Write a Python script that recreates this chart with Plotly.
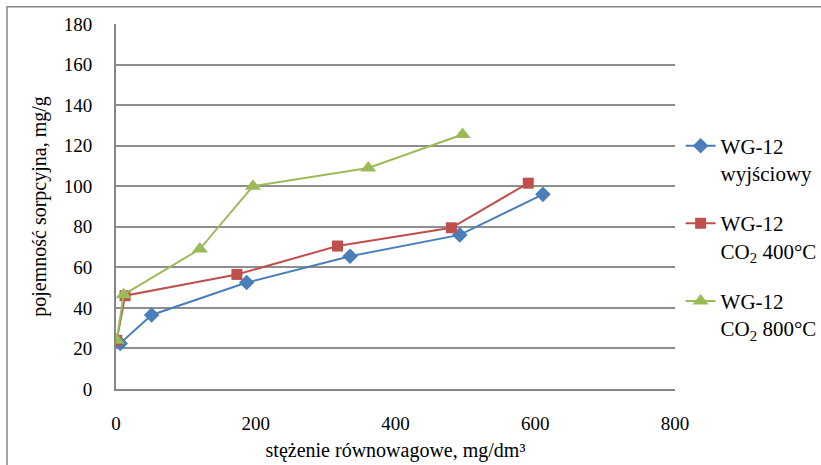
import plotly.graph_objects as go

x_wyj = [6, 51, 187, 335, 492, 611]
y_wyj = [22.5, 36.5, 52.5, 65.5, 76, 96]
x_400 = [1, 13, 173, 317, 480, 590]
y_400 = [24, 46, 56.5, 70.5, 79.5, 101.5]
x_800 = [1, 11, 120, 196, 361, 496]
y_800 = [24, 46.5, 69, 100, 109, 125.5]

names = ["WG-12<br>wyjściowy", "WG-12<br>CO<sub>2</sub> 400°C", "WG-12<br>CO<sub>2</sub> 800°C"]
colors = ["#4A7EBB", "#C0504D", "#9BBB59"]
symbols = ["diamond", "square", "triangle-up"]
sizes = [12, 11, 14]

font = "Liberation Serif, Times New Roman, serif"
fig = go.Figure()
for i, (xs, ys) in enumerate([(x_wyj, y_wyj), (x_400, y_400), (x_800, y_800)]):
    fig.add_trace(go.Scatter(
        x=xs, y=ys, mode="lines+markers", name=names[i], legendgroup=str(i),
        line=dict(color=colors[i], width=2),
        marker=dict(symbol=symbols[i], size=sizes[i], color=colors[i],
                    line=dict(width=0)),
    ))

fig.update_layout(
    width=821, height=465,
    margin=dict(l=116, r=146, t=24, b=76, autoexpand=False),
    paper_bgcolor="white", plot_bgcolor="white",
    font=dict(family=font, size=19, color="black"),
    showlegend=True,
    legend=dict(xref="container", yref="container", x=0.829, y=0.730,
                xanchor="left", yanchor="top",
                tracegroupgap=20, valign="top", traceorder="grouped",
                font=dict(family=font, size=21), itemwidth=30),
    xaxis=dict(range=[0, 800], dtick=200, showgrid=False, zeroline=False,
               showline=True, linecolor="#868686", linewidth=2,
               ticks="outside", ticklen=16, tickcolor="rgba(0,0,0,0)",
               automargin=False,
               title=dict(text="stężenie równowagowe, mg/dm³", standoff=10,
                          font=dict(size=20))),
    yaxis=dict(range=[0, 180], dtick=20, showgrid=True, gridcolor="#8E8E8E",
               gridwidth=2, zeroline=False, showline=True, linecolor="#868686",
               linewidth=2, ticks="outside", ticklen=18,
               tickcolor="rgba(0,0,0,0)", automargin=False,
               title=dict(text="pojemność sorpcyjna, mg/g", standoff=12,
                          font=dict(size=20))),
    shapes=[dict(type="rect", xref="paper", yref="paper",
                 x0=-0.195, x1=1.3, y0=-0.3, y1=1.047,
                 line=dict(color="#868686", width=1.5), layer="below")],
)

fig.write_html("out.html")
